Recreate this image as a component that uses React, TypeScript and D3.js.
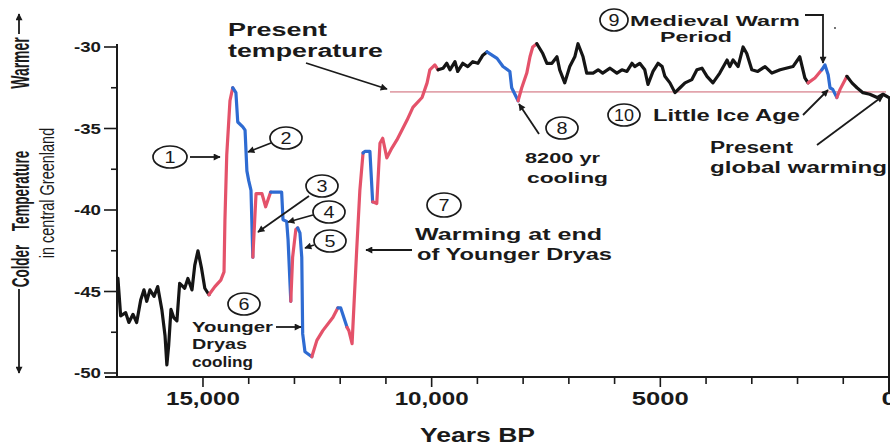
import React from "react";
import * as d3 from "d3";

// Years before present (BP) and temperature in central Greenland (°C)
const years = [
  16860, 16800, 16690, 16620, 16530, 16450, 16360, 16290, 16230, 16160,
  16070, 15990, 15900, 15830, 15790, 15750, 15700, 15640, 15570, 15510,
  15400, 15330, 15240, 15180, 15110, 15030, 14960, 14870, 14740, 14610,
  14540, 14520, 14480, 14410, 14350, 14280, 14240, 14130, 14080, 14040,
  14000, 13950, 13910, 13840, 13710, 13630, 13520, 13280, 13250, 13170,
  13140, 13080, 13040, 12970, 12930, 12880, 12840, 12820, 12770, 12620,
  12510, 12380, 12160, 12050, 11990, 11850, 11810, 11740, 11640, 11570,
  11500, 11460, 11350, 11290, 11200, 11130, 11070, 10980, 10870, 10760,
  10540, 10410, 10210, 10100, 10040, 9930, 9860, 9750, 9670, 9600,
  9490, 9430, 9320, 9210, 9100, 8990, 8880, 8790, 8570, 8440,
  8290, 8250, 8180, 8110, 8030, 7920, 7850, 7790, 7700, 7570,
  7480, 7370, 7260, 7200, 7090, 6980, 6870, 6800, 6690, 6610,
  6470, 6360, 6260, 6100, 5950, 5840, 5730, 5620, 5560, 5450,
  5340, 5270, 5160, 5050, 4960, 4900, 4790, 4680, 4570, 4460,
  4310, 4200, 4090, 3980, 3850, 3700, 3540, 3480, 3410, 3300,
  3190, 3110, 3000, 2870, 2710, 2560, 2380, 2100, 1950, 1840,
  1770, 1620, 1470, 1400, 1330, 1290, 1230, 1140, 1070, 920,
  810, 700, 570, 420, 260, 130, 0,
];

const temps = [
  -44.2, -46.5, -46.3, -46.9, -46.4, -46.9, -45.5, -44.9, -45.6, -44.9,
  -45.3, -44.7, -46.1, -47.7, -49.5, -48.3, -46.1, -46.6, -46.8, -44.5,
  -44.8, -44.2, -44.9, -43.4, -42.5, -43.6, -44.8, -45.2, -44.7, -44.3,
  -43.8, -40.6, -36.6, -33.3, -32.5, -32.8, -34.6, -34.9, -35.1, -37.6,
  -38.2, -38.8, -42.9, -39.0, -39.0, -39.8, -38.9, -38.9, -40.6, -40.7,
  -41.8, -45.6, -42.9, -41.2, -41.1, -41.4, -42.9, -47.6, -48.7, -49.0,
  -48.0, -47.4, -46.6, -46.0, -46.0, -47.2, -47.4, -48.2, -42.5, -38.8,
  -36.5, -36.4, -36.4, -39.5, -39.6, -35.9, -35.6, -36.8, -36.2, -35.7,
  -34.5, -33.7, -33.1, -32.2, -31.4, -31.1, -31.4, -31.3, -31.0, -31.4,
  -30.9, -31.5, -31.0, -31.2, -30.9, -31.0, -30.5, -30.3, -30.7, -31.2,
  -31.5, -32.5, -32.9, -33.3, -32.5, -31.6, -30.6, -30.0, -29.8, -30.4,
  -31.0, -31.0, -30.6, -31.4, -32.2, -31.2, -30.6, -29.8, -30.6, -31.6,
  -31.6, -31.4, -31.6, -31.3, -31.6, -31.4, -31.5, -31.0, -31.2, -31.0,
  -31.4, -32.3, -31.5, -31.0, -31.2, -31.8, -32.2, -32.8, -32.5, -32.2,
  -32.0, -31.4, -31.3, -31.8, -32.2, -31.6, -30.8, -31.2, -30.8, -31.2,
  -30.0, -30.4, -31.4, -31.5, -31.2, -31.6, -31.4, -31.2, -30.6, -31.9,
  -32.2, -31.9, -31.4, -31.1, -31.7, -32.5, -32.6, -33.1, -32.6, -31.8,
  -32.2, -32.5, -32.8, -32.9, -33.1, -32.9, -33.1,
];

// Trend of the segment that starts at each point: S = stable, W = warming, C = cooling
const trends = [
  "S", "S", "S", "S", "S", "S", "S", "S", "S", "S",
  "S", "S", "S", "S", "S", "S", "S", "S", "S", "S",
  "S", "S", "S", "S", "S", "S", "S", "W", "W", "W",
  "W", "W", "W", "W", "C", "C", "C", "C", "C", "C",
  "C", "C", "W", "W", "W", "W", "C", "C", "C", "C",
  "C", "W", "W", "W", "C", "C", "C", "C", "C", "W",
  "W", "W", "W", "C", "C", "W", "W", "W", "W", "W",
  "C", "C", "C", "W", "W", "W", "W", "W", "W", "W",
  "W", "W", "W", "W", "W", "W", "S", "S", "S", "S",
  "S", "S", "S", "S", "S", "S", "S", "C", "C", "C",
  "C", "C", "C", "W", "W", "W", "W", "W", "S", "S",
  "S", "S", "S", "S", "S", "S", "S", "S", "S", "S",
  "S", "S", "S", "S", "S", "S", "S", "S", "S", "S",
  "S", "S", "S", "S", "S", "S", "S", "S", "S", "S",
  "S", "S", "S", "S", "S", "S", "S", "S", "S", "S",
  "S", "S", "S", "S", "S", "S", "S", "S", "S", "S",
  "W", "W", "C", "C", "C", "C", "C", "W", "W", "S",
  "S", "S", "S", "S", "S", "S", "S",
];

const presentTemperature = -32.75;
const yMajorTicks = [-30, -35, -40, -45, -50];
const yMinorTicks = [-32.5, -37.5, -42.5, -47.5];
const xTickValues = [15000, 14000, 13000, 12000, 11000, 10000, 9000, 8000, 7000, 6000, 5000, 4000, 3000, 2000, 1000, 0];
const xTickLabels = [
  { v: 15000, t: "15,000" },
  { v: 10000, t: "10,000" },
  { v: 5000, t: "5000" },
  { v: 0, t: "0" },
];

const COLORS: Record<string, string> = { S: "#151515", W: "#e4526a", C: "#2e6bd2" };
const FONT = "'Liberation Sans', Arial, Helvetica, sans-serif";

const W = 890;
const H = 445;

function T({ x, y, w, size, children, anchor = "start", weight = "bold" }: any) {
  return (
    <text
      x={x}
      y={y}
      fontSize={size}
      fontWeight={weight}
      fontFamily={FONT}
      textAnchor={anchor}
      textLength={w}
      lengthAdjust="spacingAndGlyphs"
      fill="#1a1a1a"
    >
      {children}
    </text>
  );
}

function VT({ cx, cy, size, sx, children, weight = "bold" }: any) {
  return (
    <text
      transform={`translate(${cx},${cy}) scale(${sx},1) rotate(-90)`}
      textAnchor="middle"
      dy="0.36em"
      fontSize={size}
      fontWeight={weight}
      fontFamily={FONT}
      fill="#1a1a1a"
    >
      {children}
    </text>
  );
}

function Num({ cx, cy, n, rx = 16, ry = 11 }: any) {
  return (
    <g>
      <ellipse cx={cx} cy={cy} rx={rx} ry={ry} fill="white" stroke="#1a1a1a" strokeWidth={1.7} />
      <text
        x={cx}
        y={cy + 6}
        fontSize={17}
        fontFamily={FONT}
        textAnchor="middle"
        textLength={n.length > 1 ? 20 : 11}
        lengthAdjust="spacingAndGlyphs"
        fill="#1a1a1a"
      >
        {n}
      </text>
    </g>
  );
}

function Arrow({ pts }: any) {
  const d = d3.line()(pts);
  return <path d={d || ""} fill="none" stroke="#1a1a1a" strokeWidth={1.8} markerEnd="url(#ah)" />;
}

export default function App() {
  const x = d3.scaleLinear().domain([16880, 0]).range([117, 889]);
  const y = d3.scaleLinear().domain([-50, -30]).range([373, 47]);

  const line = d3
    .line<number>()
    .x((i) => x(years[i]))
    .y((i) => y(temps[i]))
    .curve(d3.curveLinear);

  // group consecutive segments of same trend
  const runs: { code: string; idx: number[] }[] = [];
  for (let i = 0; i < years.length - 1; i++) {
    const c = trends[i];
    const last = runs[runs.length - 1];
    if (last && last.code === c) last.idx.push(i + 1);
    else runs.push({ code: c, idx: [i, i + 1] });
  }

  const axisY = 377;
  const axisX = 117;

  return (
    <svg
      width={W}
      height={H}
      viewBox={`0 0 ${W} ${H}`}
      style={{ position: "absolute", left: 0, top: 0, background: "white" }}
    >
      <defs>
        <marker id="ah" viewBox="0 0 10 10" refX="9" refY="5" markerWidth="9" markerHeight="7" markerUnits="userSpaceOnUse" orient="auto">
          <path d="M0,0 L10,5 L0,10 z" fill="#1a1a1a" />
        </marker>
      </defs>
      <rect x={0} y={0} width={W} height={H} fill="white" />

      {/* side labels */}
      <VT cx={20} cy={63} size={14} sx={1.8}>Warmer</VT>
      <VT cx={20} cy={191} size={13.5} sx={1.8}>Temperature</VT>
      <VT cx={20} cy={266} size={13.5} sx={1.8}>Colder</VT>
      <VT cx={46} cy={193} size={14.5} sx={1.45} weight="normal">in central Greenland</VT>
      <Arrow pts={[[19, 34], [19, 14]]} />
      <Arrow pts={[[19, 289], [19, 373]]} />

      {/* present temperature line */}
      <line x1={390} x2={886} y1={y(presentTemperature)} y2={y(presentTemperature)} stroke="#e2a4ac" strokeWidth={1.6} />

      {/* axes */}
      <line x1={axisX} x2={axisX} y1={44} y2={axisY} stroke="#1a1a1a" strokeWidth={2} />
      <line x1={105} x2={889} y1={axisY} y2={axisY} stroke="#1a1a1a" strokeWidth={2} />
      <line x1={889} x2={889} y1={y(temps[temps.length - 1])} y2={392} stroke="#1a1a1a" strokeWidth={2} />
      {yMajorTicks.map((v) => (
        <g key={v}>
          <line x1={104} x2={axisX} y1={y(v)} y2={y(v)} stroke="#1a1a1a" strokeWidth={1.6} />
          <T x={101} y={y(v) + 5} w={27} size={14} anchor="end">{String(v)}</T>
        </g>
      ))}
      {yMinorTicks.map((v) => (
        <line key={v} x1={111} x2={axisX} y1={y(v)} y2={y(v)} stroke="#1a1a1a" strokeWidth={1.6} />
      ))}
      {xTickValues.map((v) => (
        <line key={v} x1={x(v)} x2={x(v)} y1={axisY} y2={axisY + (v % 5000 === 0 ? 10 : 7)} stroke="#1a1a1a" strokeWidth={1.6} />
      ))}
      {xTickLabels.map((d) => (
        <T key={d.v} x={x(d.v)} y={405} w={d.t.length === 6 ? 74 : d.t.length === 4 ? 57 : 15} size={18} anchor="middle">{d.t}</T>
      ))}
      <T x={420} y={442} w={115} size={20}>Years BP</T>

      {/* curve */}
      {runs.map((r, k) => (
        <path key={k} d={line(r.idx) || ""} fill="none" stroke={COLORS[r.code]} strokeWidth={3.2} strokeLinejoin="round" strokeLinecap="round" />
      ))}

      {/* annotations */}
      <T x={228} y={36} w={99} size={18}>Present</T>
      <T x={228} y={57} w={155} size={18}>temperature</T>
      <Arrow pts={[[306, 63], [387, 89]]} />

      <Num cx={170} cy={157} n="1" rx={17} />
      <Arrow pts={[[190, 157], [220, 157]]} />
      <Num cx={286} cy={138} n="2" />
      <Arrow pts={[[271, 143], [248, 152]]} />
      <Num cx={322} cy={186} n="3" />
      <Arrow pts={[[309, 196], [258, 232]]} />
      <Num cx={329} cy={212} n="4" />
      <Arrow pts={[[313, 215], [288, 222]]} />
      <Num cx={330} cy={241} n="5" />
      <Arrow pts={[[314, 245], [305, 248]]} />

      <Num cx={244} cy={304} n="6" />
      <T x={192} y={332} w={81} size={14}>Younger</T>
      <Arrow pts={[[276, 327], [301, 327]]} />
      <T x={192} y={349} w={55} size={14}>Dryas</T>
      <T x={192} y={367} w={61} size={14}>cooling</T>

      <Num cx={444} cy={205} n="7" rx={17} ry={12} />
      <T x={415} y={240} w={187} size={16}>Warming at end</T>
      <T x={417} y={260} w={195} size={16}>of Younger Dryas</T>
      <Arrow pts={[[412, 250], [366, 250]]} />

      <Num cx={562} cy={128} n="8" />
      <Arrow pts={[[539, 134], [519, 104]]} />
      <T x={525} y={163} w={75} size={15}>8200 yr</T>
      <T x={527} y={183} w={81} size={15}>cooling</T>

      <Num cx={614} cy={20} n="9" rx={14} />
      <T x={630} y={26} w={170} size={15}>Medieval Warm</T>
      <T x={660} y={42} w={72} size={15}>Period</T>
      <Arrow pts={[[805, 15], [823, 15], [823, 63]]} />
      <circle cx={835} cy={28} r={0.9} fill="#333" />

      <Num cx={624} cy={115} n="10" />
      <T x={653} y={121} w={147} size={16}>Little Ice Age</T>
      <Arrow pts={[[803, 115], [828, 90]]} />

      <T x={710} y={153} w={83} size={16}>Present</T>
      <T x={710} y={173} w={177} size={16}>global warming</T>
      <Arrow pts={[[817, 145], [883, 96]]} />
    </svg>
  );
}
